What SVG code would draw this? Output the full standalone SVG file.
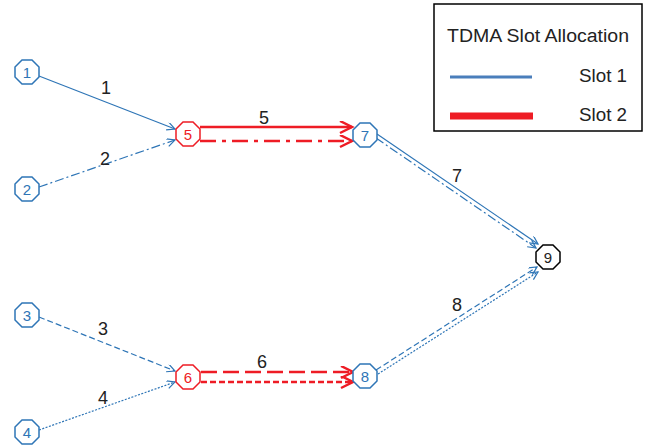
<svg xmlns="http://www.w3.org/2000/svg" xmlns:xlink="http://www.w3.org/1999/xlink" width="645" height="446" viewBox="0 0 645 446">
<style>
.nb{fill:#fff;stroke:#2e75b6;stroke-width:1.5}
.nr{fill:#fff;stroke:#ee1c25;stroke-width:1.5}
.nk{fill:#fff;stroke:#000;stroke-width:1.5}
.lt{font-family:"Liberation Sans",Arial,sans-serif;font-size:15px;text-anchor:middle}
.tb{fill:#2e75b6}.tr{fill:#ee1c25}.tk{fill:#222}
.el{font-family:"Liberation Sans",Arial,sans-serif;font-size:18px;fill:#222;text-anchor:middle}
.b{stroke:#2e75b6;stroke-width:1.2;fill:none;marker-end:url(#ab)}
.r{stroke:#ee1c25;stroke-width:2.5;fill:none;marker-end:url(#ar)}
.lg{font-family:"Liberation Sans",Arial,sans-serif;font-size:18px;fill:#222}
</style>
<defs>
<polygon id="oct" points="12,5 5,12 -5,12 -12,5 -12,-5 -5,-12 5,-12 12,-5"/>
<marker id="ab" markerUnits="userSpaceOnUse" markerWidth="12" markerHeight="10" refX="9" refY="4" orient="auto" viewBox="0 0 12 10">
<path d="M1,0 L9,4 L1,8" fill="none" stroke="#2e75b6" stroke-width="1.2"/>
</marker>
<marker id="ar" markerUnits="userSpaceOnUse" markerWidth="16" markerHeight="14" refX="13" refY="6" orient="auto" viewBox="0 0 16 14">
<path d="M1,0 L13,6 L1,12" fill="none" stroke="#ee1c25" stroke-width="2.5"/>
</marker>
</defs>
<g id="connectors">
<line class="b" x1="39" y1="76" x2="175" y2="129"/>
<line class="b" x1="39" y1="187" x2="175" y2="140" stroke-dasharray="9,3,2,3"/>
<line class="r" x1="200" y1="127" x2="352" y2="127"/>
<line class="r" x1="200" y1="141" x2="352" y2="141" stroke-dasharray="16,6,4,6"/>
<line class="b" x1="377" y1="134" x2="538" y2="244"/>
<line class="b" x1="376" y1="138" x2="536" y2="248" stroke-dasharray="9,3,2,3"/>
<line class="b" x1="39" y1="317" x2="175" y2="371" stroke-dasharray="6,3"/>
<line class="b" x1="39" y1="430" x2="175" y2="382" stroke-dasharray="2,1.5"/>
<line class="r" x1="201" y1="372" x2="353" y2="372" stroke-dasharray="16,6"/>
<line class="r" x1="201" y1="382" x2="353" y2="382" stroke-dasharray="6,3"/>
<line class="b" x1="376" y1="370" x2="537" y2="267" stroke-dasharray="6,3"/>
<line class="b" x1="378" y1="374" x2="538" y2="272" stroke-dasharray="2,1.5"/>
</g>
<g id="edge-labels">
<text class="el" x="106" y="94">1</text>
<text class="el" x="105" y="165">2</text>
<text class="el" x="264" y="124">5</text>
<text class="el" x="457" y="182">7</text>
<text class="el" x="103" y="335">3</text>
<text class="el" x="103" y="404">4</text>
<text class="el" x="262" y="368">6</text>
<text class="el" x="457" y="311">8</text>
</g>
<g id="n1" transform="translate(27,72)"><use xlink:href="#oct" class="nb"/><text class="lt tb" y="5.5">1</text></g>
<g id="n2" transform="translate(27,189)"><use xlink:href="#oct" class="nb"/><text class="lt tb" y="5.5">2</text></g>
<g id="n3" transform="translate(27,315)"><use xlink:href="#oct" class="nb"/><text class="lt tb" y="5.5">3</text></g>
<g id="n4" transform="translate(27,432)"><use xlink:href="#oct" class="nb"/><text class="lt tb" y="5.5">4</text></g>
<g id="n5" transform="translate(188,134)"><use xlink:href="#oct" class="nr"/><text class="lt tr" y="5.5">5</text></g>
<g id="n6" transform="translate(188,377)"><use xlink:href="#oct" class="nr"/><text class="lt tr" y="5.5">6</text></g>
<g id="n7" transform="translate(365,135)"><use xlink:href="#oct" class="nb"/><text class="lt tb" y="5.5">7</text></g>
<g id="n8" transform="translate(365,376)"><use xlink:href="#oct" class="nb"/><text class="lt tb" y="5.5">8</text></g>
<g id="n9" transform="translate(548,257)"><use xlink:href="#oct" class="nk"/><text class="lt tk" y="5.5">9</text></g>
<g id="legend">
<rect x="434" y="4" width="208" height="127" fill="#fff" stroke="#000" stroke-width="1.5"/>
<text class="lg" x="447" y="42" textLength="182" lengthAdjust="spacingAndGlyphs">TDMA Slot Allocation</text>
<line x1="450" y1="77" x2="532" y2="77" stroke="#4a7ebb" stroke-width="3"/>
<text class="lg" x="579" y="82" textLength="48" lengthAdjust="spacingAndGlyphs">Slot 1</text>
<line x1="450" y1="116" x2="533" y2="116" stroke="#ee1c25" stroke-width="7"/>
<text class="lg" x="579" y="121" textLength="48" lengthAdjust="spacingAndGlyphs">Slot 2</text>
</g>
</svg>
